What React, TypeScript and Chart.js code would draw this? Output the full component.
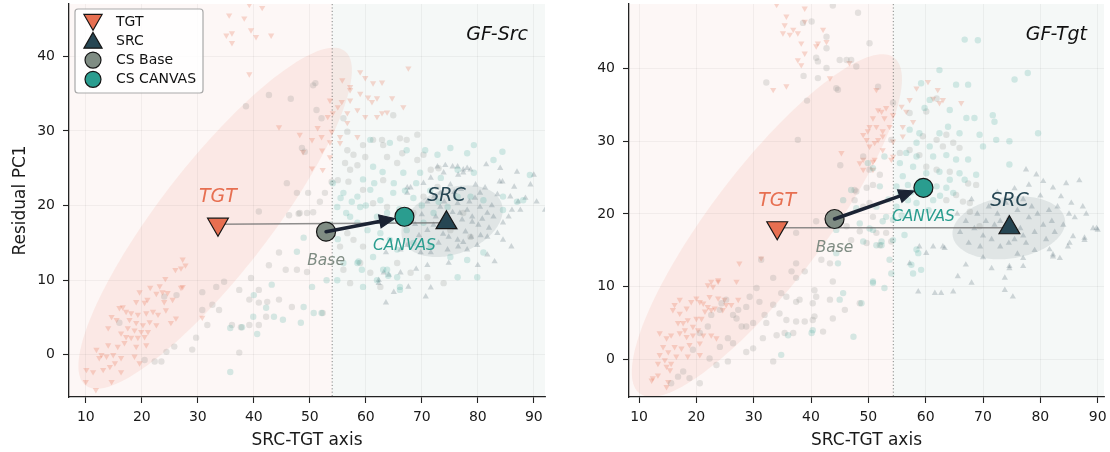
import React, { useEffect, useRef } from "react";
import { Chart, registerables } from "chart.js";

Chart.register(...registerables);

const FONT = '"DejaVu Sans", "Liberation Sans", sans-serif';

type Pt = [number, number];
type Ell = { c: Pt; a: Pt; b: Pt };

// ---- tick labels ----
const xTicks = [10, 20, 30, 40, 50, 60, 70, 80, 90];
const yTicks = [0, 10, 20, 30, 40];

// ---- legend entries ----
const legendLabels = ["TGT", "SRC", "CS Base", "CS CANVAS"];

// ================= Panel 1: GF-Src =================
const gfSrcTgtPts: Pt[] = [
  [27.3, 12.8], [27.8, 12.0], [26.0, 11.4], [27.0, 11.6], [24.2, 10.2], [23.2, 9.2], [21.5, 9.0], [23.7, 8.4], [22.6, 8.2], [24.6, 8.3],
  [27.0, 9.0], [25.5, 7.4], [24.0, 7.1], [19.6, 8.4], [19.0, 7.1], [20.5, 7.0], [21.0, 7.4], [16.6, 6.4], [16.0, 6.3], [17.2, 5.8],
  [18.1, 5.6], [19.3, 5.4], [20.8, 5.6], [22.0, 5.8], [22.9, 5.4], [24.3, 6.0], [25.2, 4.3], [14.6, 5.1], [15.5, 4.7], [17.8, 4.7],
  [19.0, 4.3], [20.2, 4.0], [21.4, 4.4], [22.6, 4.0], [14.0, 3.6], [17.5, 3.6], [18.7, 3.3], [19.9, 3.1], [21.1, 3.1], [16.3, 2.9],
  [17.2, 2.4], [18.1, 2.3], [19.3, 2.3], [20.5, 2.4], [16.9, 1.6], [15.7, 1.1], [19.0, 1.1], [20.8, 1.3], [14.0, 1.3], [11.9, 0.7],
  [12.8, 0.0], [12.4, -0.4], [13.7, -0.2], [14.9, 0.0], [16.3, -0.4], [18.7, -0.2], [19.6, -1.1], [15.2, -1.1], [14.3, -1.6], [13.1, -2.0],
  [11.3, -2.3], [10.1, -2.0], [16.3, -2.3], [14.6, -3.6], [10.0, -3.6], [11.8, -4.7], [26.1, 4.9], [27.3, 9.1], [30.8, 5.0],
  [35.6, 45.5], [36.1, 43.1], [35.1, 42.8], [38.3, 45.1], [39.5, 43.5], [40.4, 42.6], [41.5, 46.5], [43.1, 42.8], [39.2, 46.9], [36.1, 41.8],
  [39.2, 37.6], [44.5, 30.5], [67.6, 38.4], [59.0, 37.9], [59.9, 37.1], [61.3, 36.4], [62.9, 36.5], [57.2, 35.5], [55.8, 36.8], [59.0, 35.0],
  [60.4, 34.5], [62.0, 34.4], [61.1, 33.9], [64.7, 34.4], [66.7, 33.2], [57.2, 34.1], [58.5, 32.8], [56.7, 32.4], [59.9, 31.9], [62.0, 31.9],
  [63.8, 32.5], [62.9, 32.4], [53.6, 34.1], [53.2, 31.9], [54.1, 32.4], [55.0, 33.2], [51.4, 30.4], [52.1, 29.2], [53.9, 29.9], [55.4, 29.2],
  [56.7, 31.1], [58.5, 29.2], [53.6, 28.5], [55.4, 28.4], [48.2, 29.5], [50.4, 28.8], [48.8, 27.2], [50.4, 25.0], [52.3, 24.8], [53.6, 26.5],
  [57.2, 35.9], [52.2, 27.4], [55.7, 33.9],
];

const gfSrcBasePts: Pt[] = [
  [40.9, 19.2], [46.3, 18.7], [48.0, 18.9], [44.5, 13.7], [42.7, 12.0], [45.7, 11.4], [47.7, 11.4], [49.5, 11.1], [39.5, 10.3], [37.4, 8.7],
  [40.9, 8.7], [39.2, 7.4], [40.9, 7.0], [42.4, 7.1], [44.5, 7.4], [46.8, 6.4], [34.7, 9.8], [33.3, 9.1], [30.8, 8.4], [32.6, 6.7],
  [33.8, 6.0], [30.8, 6.0], [31.7, 4.0], [36.1, 4.0], [37.7, 3.7], [39.2, 4.0], [40.9, 4.0], [42.2, 5.1], [29.7, 2.3], [29.0, 0.7],
  [25.8, 1.1], [24.4, 0.4], [23.5, -0.9], [22.3, -0.9], [20.5, -0.7], [16.0, 4.3], [24.0, 7.8], [26.2, 8.0], [37.4, 0.3], [52.3, 5.6],
  [38.6, 33.3], [42.7, 34.8], [46.6, 34.3], [45.9, 23.0], [51.0, 36.4], [51.2, 32.8], [52.1, 31.7], [56.0, 31.7], [56.7, 29.9], [64.9, 32.1],
  [62.9, 28.8], [61.3, 28.8], [63.1, 28.1], [66.1, 29.0], [69.2, 29.5], [67.3, 28.8], [63.8, 26.5], [56.7, 27.4], [57.8, 26.8], [59.5, 28.1],
  [59.9, 26.5], [56.3, 25.7], [55.0, 23.4], [56.9, 23.2], [58.5, 25.4], [66.5, 27.0], [70.3, 26.8], [73.0, 25.0], [47.7, 21.7], [49.7, 21.7],
  [52.7, 21.7], [53.9, 23.2], [50.6, 36.1], [48.6, 27.7], [49.1, 27.2], [48.2, 19.0], [49.5, 19.0], [50.6, 19.1], [51.8, 20.5],
  [57.2, 24.8], [59.5, 22.1], [63.1, 23.4], [65.6, 25.7], [69.2, 26.1], [71.6, 24.8], [61.3, 20.3], [63.8, 19.8], [56.7, 16.3], [57.8, 15.4],
  [55.4, 14.5], [59.5, 14.5], [59.0, 12.3], [56.0, 11.4], [60.8, 11.0], [57.2, 9.6], [62.6, 9.1], [65.6, 12.3], [68.0, 11.0], [71.0, 10.4],
  [73.9, 9.6], [70.3, 21.2], [72.8, 22.5], [68.5, 19.0], [77.4, 19.0], [75.1, 16.7], [78.7, 15.8],
];

const gfSrcCanvasPts: Pt[] = [
  [60.8, 28.8], [64.3, 28.4], [67.3, 27.4], [70.6, 27.4], [72.8, 26.8], [75.1, 27.7], [78.1, 27.0], [79.3, 28.1], [82.8, 26.1], [84.4, 27.2],
  [61.3, 25.2], [66.7, 24.4], [69.7, 24.4], [73.4, 23.7], [76.4, 24.8], [79.3, 24.4], [54.1, 23.0], [56.0, 21.7], [58.5, 21.2], [60.8, 22.1],
  [64.9, 21.7], [62.6, 20.7], [54.9, 19.8], [59.0, 19.8], [63.8, 19.0], [62.0, 18.5], [67.3, 16.7], [70.3, 17.7], [72.1, 19.0], [74.6, 19.8],
  [76.4, 21.2], [78.7, 21.2], [81.0, 20.7], [84.5, 21.2], [87.0, 20.5], [88.1, 20.7], [89.3, 24.1], [57.2, 18.5], [58.5, 17.7], [60.3, 16.7],
  [62.6, 16.3], [64.3, 15.4], [65.6, 14.1], [68.5, 15.0], [71.6, 14.5], [75.1, 13.1], [78.1, 12.7], [81.0, 13.7], [61.3, 13.1], [58.5, 12.3],
  [63.1, 11.4], [65.6, 10.4], [66.1, 9.1], [59.5, 9.1], [54.9, 10.0], [76.4, 10.4], [79.9, 10.4], [84.5, 19.4],
  [48.9, 15.7], [47.7, 13.8], [53.0, 10.0], [50.4, 9.1], [48.9, 6.4], [48.4, 4.3], [52.1, 5.6], [42.2, 6.3], [43.6, 5.1], [45.2, 4.7],
  [40.0, 8.0], [39.9, 5.1], [37.9, 3.7], [40.6, 2.8], [35.8, 3.6], [35.8, -2.3], [43.2, 9.4], [56.0, 12.3], [58.7, 12.5], [59.3, 11.4],
  [63.8, 11.4], [64.0, 10.6], [62.0, 10.0], [66.1, 8.7], [50.7, 5.6],
  [55.5, 21.0], [56.5, 19.0], [53.5, 17.5], [55.0, 15.5], [57.5, 20.5], [59.5, 23.5], [61.5, 23.0], [63.0, 24.5], [65.0, 23.0], [67.0, 22.0],
  [68.5, 21.0], [70.0, 20.0], [71.5, 22.0], [73.0, 20.5], [69.0, 23.0], [66.0, 19.5], [64.5, 18.0], [60.0, 20.0],
];

const gfSrcSrcPts: Pt[] = [
  [75.5, 25.2], [77.4, 24.8], [84.4, 23.2], [87.0, 24.5], [79.6, 22.8], [81.3, 22.4], [85.8, 21.2], [86.1, 19.4], [84.5, 17.7], [82.8, 18.5],
  [81.7, 19.0], [80.4, 19.8], [78.1, 19.4], [77.2, 18.1], [79.0, 17.8], [80.1, 17.4], [75.5, 19.1], [76.4, 20.3], [73.3, 19.8], [72.1, 17.4],
  [71.0, 16.7], [76.4, 15.4], [77.4, 15.1], [78.1, 14.1], [79.9, 14.7], [81.7, 15.8], [83.5, 16.3], [84.5, 15.4], [74.6, 14.1], [76.5, 14.5],
  [81.7, 13.4], [71.6, 13.7], [69.8, 13.7], [67.4, 14.7], [66.2, 14.1], [63.6, 13.7], [63.2, 11.0], [64.1, 10.7], [66.2, 11.0], [62.3, 9.6],
  [67.4, 21.7], [68.0, 22.4], [70.3, 23.0], [71.6, 23.7], [73.3, 21.7], [87.2, 20.5], [76.4, 25.2], [78.1, 25.0], [74.2, 25.4], [87.6, 19.4],
  [62.3, 10.0], [65.0, 8.4], [63.6, 7.0], [70.7, 7.8], [71.6, 9.0], [67.6, 9.1], [74.8, 12.3],
  [89.4, 22.8], [90.0, 24.1], [92.0, 19.4], [83.9, 23.2], [77.4, 24.4], [78.7, 24.8], [76.5, 24.1], [73.9, 24.4], [72.8, 25.2], [75.1, 22.8],
  [80.4, 21.7], [67.4, 22.4],
  [72.5, 18.5], [73.8, 16.2], [75.0, 18.0], [76.0, 17.0], [77.8, 16.5], [78.5, 20.5], [79.5, 21.0], [74.0, 20.5], [75.8, 21.8], [77.0, 22.2],
  [80.8, 18.2], [82.0, 17.0], [70.0, 18.8], [71.0, 20.5], [73.0, 15.0], [74.8, 15.8], [78.8, 15.8], [80.5, 16.0], [82.5, 20.0], [83.5, 21.5],
  [76.8, 19.0], [79.0, 18.5], [72.2, 21.2], [68.8, 17.5], [69.5, 16.0], [85.5, 18.5], [86.5, 22.5], [88.5, 21.0], [84.0, 25.0], [81.5, 25.5],
  [90.5, 20.5], [83.0, 12.5], [86.0, 14.5], [80.0, 12.0], [71.0, 12.0], [69.0, 11.5],
];

const gfSrcTgtMean: Pt = [33.6, 17.5];
const gfSrcSrcMean: Pt = [74.4, 17.7];
const gfSrcBaseMean: Pt = [52.9, 16.5];
const gfSrcCanvasMean: Pt = [66.9, 18.5];

// ================= Panel 2: GF-Tgt =================
const gfTgtTgtPts: Pt[] = [
  [27.5, 13.2], [31.3, 13.9], [27.0, 10.7], [23.8, 10.7], [22.9, 10.0], [22.0, 10.2], [20.0, 8.4], [20.6, 7.9], [19.1, 7.9], [18.3, 7.0],
  [17.1, 6.3], [15.9, 6.8], [22.3, 8.6], [23.8, 8.4], [24.9, 8.2], [21.2, 7.7], [22.0, 7.2], [23.2, 7.0], [21.5, 6.6], [20.0, 5.6],
  [20.9, 5.6], [18.5, 5.4], [17.7, 5.0], [16.8, 5.0], [19.4, 4.5], [18.0, 4.0], [20.3, 4.0], [21.2, 3.3], [22.6, 3.3], [23.5, 2.9],
  [19.4, 3.3], [18.3, 3.1], [17.1, 3.6], [15.6, 3.3], [14.8, 2.9], [13.6, 3.6], [14.2, 1.7], [15.1, 1.0], [16.2, 1.7], [17.4, 1.5],
  [18.8, 2.0], [20.6, 2.2], [13.6, 0.6], [14.5, -0.1], [15.6, -0.6], [16.5, 0.4], [18.5, 0.4], [20.6, 0.6], [13.3, -0.6], [14.8, -1.0],
  [15.4, -1.5], [13.3, -2.2], [12.4, -2.6], [15.1, -3.1], [12.2, -2.9], [14.8, -3.8], [22.6, 10.7], [23.8, 10.9], [27.3, 8.2], [26.1, 7.5],
  [24.6, 6.8], [17.1, 8.2], [16.2, 7.5], [25.2, 7.5], [22.6, 6.8],
  [34.0, 48.8], [38.9, 48.3], [35.7, 47.2], [35.4, 46.0], [35.1, 44.9], [36.3, 44.7], [36.9, 45.4], [37.7, 44.9], [38.9, 46.5], [38.3, 43.5],
  [38.9, 42.1], [37.7, 41.2], [38.3, 40.5], [40.9, 43.1], [41.2, 43.5], [42.1, 45.4], [42.7, 43.7], [43.3, 38.7], [46.7, 40.8], [33.4, 37.1],
  [35.7, 37.6], [45.3, 28.4],
  [51.4, 37.1], [52.3, 34.1], [50.8, 33.2], [53.1, 34.6], [51.4, 32.0], [49.9, 31.4], [52.5, 31.4], [49.1, 30.9], [51.7, 30.2], [49.7, 30.2],
  [51.1, 29.8], [49.1, 27.5], [50.8, 27.2], [49.1, 26.1], [54.0, 27.5],
  [62.1, 37.1], [60.4, 38.2], [58.4, 37.3], [57.2, 35.7], [61.3, 35.9], [62.4, 35.3], [63.0, 35.7], [66.2, 35.3], [55.8, 34.8], [54.3, 33.6],
  [56.6, 34.1], [52.8, 33.2], [51.7, 34.3], [53.7, 32.0], [50.2, 32.0], [56.0, 32.0], [57.8, 32.7], [52.5, 30.7], [56.0, 30.7], [54.3, 30.0],
  [50.2, 29.3], [52.5, 28.8], [51.1, 27.5], [48.5, 27.0], [54.3, 27.9], [50.8, 26.1],
];

const gfTgtBasePts: Pt[] = [
  [31.3, 13.7], [37.4, 13.2], [36.6, 12.1], [33.4, 11.2], [41.8, 13.7], [43.8, 10.7], [40.6, 9.5], [40.9, 8.6], [43.3, 8.2], [40.3, 7.7],
  [38.0, 8.2], [37.4, 7.9], [35.7, 8.6], [34.8, 9.1], [33.4, 7.5], [31.0, 7.9], [30.5, 9.8], [29.3, 8.6], [28.7, 7.2], [27.3, 6.8],
  [26.4, 6.1], [27.9, 4.5], [28.7, 4.5], [29.9, 5.0], [31.9, 6.1], [32.2, 5.0], [34.5, 6.3], [35.7, 5.4], [37.4, 5.2], [38.9, 5.2],
  [40.3, 5.4], [40.6, 5.9], [42.1, 3.8], [43.8, 5.6], [36.9, 3.6], [35.4, 3.6], [34.0, 3.3], [31.6, 2.9], [29.9, 1.5], [28.7, 1.0],
  [26.4, 2.2], [25.5, 2.9], [24.1, 1.7], [25.5, -0.3], [23.5, -0.8], [22.3, 0.1], [20.6, -3.3], [18.8, -2.6], [16.8, -2.4], [17.7, -1.7],
  [15.6, -3.3], [19.4, 1.3], [24.4, 7.7], [25.2, 8.2], [24.1, 6.8], [27.0, 5.6], [22.6, 6.1], [22.0, 4.5], [20.6, 3.6], [33.4, -0.3],
  [37.4, 11.2], [38.9, 12.1], [43.3, 13.2], [48.5, 7.7], [45.9, 6.8],
  [43.8, 48.7], [38.6, 46.3], [40.1, 46.5], [42.7, 44.4], [42.7, 42.8], [40.9, 41.5], [41.2, 41.0], [45.0, 41.2], [46.2, 41.2], [47.9, 40.3],
  [42.7, 40.1], [41.2, 38.7], [44.4, 37.3], [44.7, 37.1], [32.2, 38.1], [38.7, 39.0], [39.3, 35.6], [37.7, 30.2], [45.1, 26.7], [47.6, 23.3],
  [48.2, 47.7], [51.7, 37.5], [54.3, 35.3], [47.9, 23.1], [49.7, 23.6], [50.8, 24.0], [47.6, 21.9], [49.1, 21.0], [50.2, 21.5], [40.9, 19.0],
  [37.4, 17.4], [46.2, 18.3], [48.5, 17.6], [50.8, 19.6], [47.0, 16.4], [51.4, 17.4], [53.1, 17.4], [49.7, 16.0], [52.0, 15.7], [54.0, 16.2],
  [50.2, 26.1], [52.0, 25.4], [50.2, 43.5], [47.0, 41.2], [57.2, 33.9], [60.1, 34.1], [61.9, 35.9], [54.0, 30.2], [59.5, 30.7], [61.9, 30.2],
  [55.5, 28.4], [57.2, 28.8], [58.9, 28.1], [63.6, 30.9], [64.8, 29.8], [63.0, 29.3], [65.9, 29.1], [49.1, 27.9], [60.1, 26.5], [61.9, 26.1],
  [64.2, 25.8], [67.4, 24.2], [68.8, 24.0], [65.3, 22.6], [66.5, 21.7], [67.7, 21.5], [63.6, 21.9], [67.7, 20.3], [69.4, 18.3],
];

const gfTgtCanvasPts: Pt[] = [
  [66.8, 44.0], [69.1, 43.9], [62.4, 39.8], [65.3, 37.8], [67.4, 37.8], [75.5, 38.5], [77.8, 39.4], [59.2, 38.0], [60.7, 35.7], [59.8, 34.6],
  [64.2, 34.3], [67.1, 33.2], [68.5, 33.2], [71.7, 33.6], [72.0, 32.7], [79.6, 31.1], [63.9, 32.0], [65.9, 31.1], [69.4, 30.9], [70.0, 29.3],
  [72.3, 30.2], [74.6, 30.0], [62.4, 31.1], [58.9, 31.1], [57.2, 31.6], [58.4, 29.8], [60.7, 29.3], [56.6, 28.4], [58.4, 27.9], [61.3, 27.9],
  [63.6, 28.1], [65.3, 27.5], [67.4, 27.5], [55.5, 27.0], [57.8, 26.5], [60.1, 25.6], [62.4, 25.8], [64.2, 24.7], [65.9, 25.6], [66.8, 24.7],
  [68.8, 25.4], [74.6, 26.8], [56.0, 25.2], [54.9, 23.8], [56.9, 24.0], [61.9, 23.8], [63.6, 23.6], [64.8, 22.9], [55.5, 22.9], [56.9, 21.9],
  [54.9, 21.0], [58.4, 21.5], [61.3, 21.9], [47.9, 20.8], [51.4, 21.0], [52.5, 19.0], [50.8, 17.8], [48.5, 18.7], [54.3, 16.4],
  [56.3, 17.1], [58.4, 15.1], [59.2, 12.3], [57.8, 11.8], [57.5, 13.0], [54.0, 11.8], [52.8, 9.8], [50.8, 10.7], [48.8, 7.7], [47.4, 3.1],
  [52.3, 15.7], [49.1, 16.2], [50.2, 18.0], [58.7, 14.6], [52.0, 23.8], [53.1, 19.6], [52.3, 16.2], [54.3, 19.2], [49.9, 27.0], [50.8, 26.3],
  [52.8, 27.9], [45.6, 21.9], [47.0, 23.3], [44.4, 17.8], [51.4, 15.7], [53.7, 13.7], [44.4, 14.6], [44.7, 13.2], [45.0, 8.2],
  [40.3, 4.0], [40.1, 3.6], [45.6, 9.1], [34.8, 0.6], [36.0, 3.3], [50.8, 10.5],
  [59.0, 24.5], [60.5, 20.5], [62.5, 22.5], [57.5, 23.0], [55.8, 19.8], [53.5, 22.0],
];

const gfTgtSrcPts: Pt[] = [
  [77.5, 26.1], [79.3, 25.4], [82.2, 23.6], [84.5, 24.2], [86.8, 24.6], [83.6, 22.4], [85.4, 21.5], [87.4, 21.0], [89.2, 18.0], [90.0, 17.8],
  [87.7, 16.7], [85.7, 16.9], [84.8, 15.5], [82.2, 14.4], [83.4, 13.9], [77.0, 13.9], [74.6, 12.8], [73.8, 11.2], [77.0, 12.8], [65.6, 11.4],
  [68.0, 10.5], [58.7, 9.3], [61.6, 9.1], [62.7, 9.1], [64.8, 9.3], [75.2, 8.6], [57.2, 13.2], [58.9, 15.5], [61.3, 15.5], [63.0, 15.5],
  [60.1, 14.6], [63.3, 15.3], [73.8, 9.5], [74.6, 12.5], [82.2, 14.1], [89.8, 18.0], [87.7, 16.4], [85.1, 16.0], [81.6, 15.1],
  [66.0, 17.5], [67.0, 19.0], [67.5, 16.0], [68.5, 18.0], [69.0, 20.0], [69.5, 15.5], [70.0, 17.0], [70.5, 19.0], [71.0, 21.0], [71.5, 16.5],
  [72.0, 18.5], [72.5, 20.0], [73.0, 15.5], [73.5, 17.5], [74.0, 21.5], [74.5, 19.5], [75.5, 16.5], [76.0, 20.5], [76.5, 18.0], [77.0, 22.0],
  [77.5, 16.0], [78.0, 19.5], [78.5, 21.0], [79.0, 17.5], [79.5, 20.0], [80.0, 22.5], [80.5, 18.5], [81.0, 16.5], [81.5, 20.5], [82.0, 19.0],
  [82.5, 17.5], [83.0, 21.0], [84.0, 18.5], [85.0, 20.0], [68.0, 22.0], [72.5, 23.0], [75.5, 23.5], [78.0, 24.0], [65.5, 20.0], [70.0, 14.0],
  [76.0, 14.5], [79.0, 15.0], [71.5, 12.5], [67.0, 13.0], [80.5, 24.5], [86.0, 19.5], [88.0, 20.0], [73.0, 19.0], [74.5, 16.0], [77.0, 17.0],
];

const gfTgtTgtMean: Pt = [34.1, 18.1];
const gfTgtSrcMean: Pt = [74.6, 18.1];
const gfTgtBaseMean: Pt = [44.1, 19.3];
const gfTgtCanvasMean: Pt = [59.6, 23.6];

// ---- styling ----
const C_TGT = "#E76F51";
const C_SRC = "#264653";
const C_BASE = "#7F8C83";
const C_CANVAS = "#2A9D8F";
const C_ARROW = "#1B2333";
const BG_TGT = "#fdf7f6";
const BG_SRC = "#f5f8f7";

interface Panel {
  title: string;
  xMin: number; xMax: number; yMin: number; yMax: number;
  tgtPts: Pt[]; srcPts: Pt[]; basePts: Pt[]; canvasPts: Pt[];
  tgtMean: Pt; srcMean: Pt; baseMean: Pt; canvasMean: Pt;
  tgtEll: Ell; srcEll: Ell;
  yTitle: boolean; legend: boolean; yAxisWidth: number; padRight: number;
}

const panelSrc: Panel = {
  title: "GF-Src",
  xMin: 7, xMax: 92, yMin: -5.65, yMax: 47,
  tgtPts: gfSrcTgtPts, srcPts: gfSrcSrcPts, basePts: gfSrcBasePts, canvasPts: gfSrcCanvasPts,
  tgtMean: gfSrcTgtMean, srcMean: gfSrcSrcMean, baseMean: gfSrcBaseMean, canvasMean: gfSrcCanvasMean,
  tgtEll: { c: [33.1, 18.3], a: [23.3, 22.3], b: [7.3, -4.95] },
  srcEll: { c: [75.4, 17.9], a: [8.8, 2.5], b: [2.1, -4.1] },
  yTitle: true, legend: true, yAxisWidth: 69, padRight: 10,
};

const panelTgt: Panel = {
  title: "GF-Tgt",
  xMin: 8.25, xMax: 91.1, yMin: -5.2, yMax: 48.9,
  tgtPts: gfTgtTgtPts, srcPts: gfTgtSrcPts, basePts: gfTgtBasePts, canvasPts: gfTgtCanvasPts,
  tgtMean: gfTgtTgtMean, srcMean: gfTgtSrcMean, baseMean: gfTgtBaseMean, canvasMean: gfTgtCanvasMean,
  tgtEll: { c: [32.3, 18.4], a: [22.2, 23.1], b: [7.9, -4.75] },
  srcEll: { c: [74.5, 18.1], a: [9.8, 1.1], b: [0.77, -4.2] },
  yTitle: false, legend: false, yAxisWidth: 74, padRight: 6,
};

function drawEllipse(ctx: CanvasRenderingContext2D, xs: any, ys: any, e: Ell, color: string) {
  ctx.beginPath();
  const n = 160;
  for (let i = 0; i <= n; i++) {
    const t = (i / n) * Math.PI * 2;
    const dx = e.c[0] + e.a[0] * Math.cos(t) + e.b[0] * Math.sin(t);
    const dy = e.c[1] + e.a[1] * Math.cos(t) + e.b[1] * Math.sin(t);
    const px = xs.getPixelForValue(dx);
    const py = ys.getPixelForValue(dy);
    if (i === 0) ctx.moveTo(px, py); else ctx.lineTo(px, py);
  }
  ctx.closePath();
  ctx.fillStyle = color;
  ctx.fill();
}

function drawMarker(ctx: CanvasRenderingContext2D, kind: string, x: number, y: number, r: number, fill: string) {
  ctx.beginPath();
  if (kind === "circle") {
    ctx.arc(x, y, r, 0, Math.PI * 2);
  } else {
    const s = kind === "down" ? -1 : 1;
    ctx.moveTo(x, y - s * r);
    ctx.lineTo(x - r * 0.866, y + s * r * 0.5);
    ctx.lineTo(x + r * 0.866, y + s * r * 0.5);
    ctx.closePath();
  }
  ctx.fillStyle = fill;
  ctx.fill();
  ctx.lineWidth = 1.2;
  ctx.strokeStyle = "#151515";
  ctx.stroke();
}

function makePlugin(p: Panel) {
  return {
    id: "panelDecor",
    beforeDraw(chart: any) {
      const { ctx, chartArea: ca, scales } = chart;
      const xs = scales.x, ys = scales.y;
      const split = xs.getPixelForValue((p.tgtMean[0] + p.srcMean[0]) / 2);
      ctx.save();
      ctx.fillStyle = "#ffffff";
      ctx.fillRect(0, 0, chart.width, chart.height);
      ctx.fillStyle = BG_TGT;
      ctx.fillRect(ca.left, ca.top, split - ca.left, ca.bottom - ca.top);
      ctx.fillStyle = BG_SRC;
      ctx.fillRect(split, ca.top, ca.right - split, ca.bottom - ca.top);
      ctx.beginPath();
      ctx.rect(ca.left, ca.top, ca.right - ca.left, ca.bottom - ca.top);
      ctx.clip();
      drawEllipse(ctx, xs, ys, p.tgtEll, "rgba(231,111,81,0.10)");
      drawEllipse(ctx, xs, ys, p.srcEll, "rgba(38,70,83,0.10)");
      ctx.restore();
    },
    beforeDatasetsDraw(chart: any) {
      const { ctx, chartArea: ca, scales } = chart;
      const split = scales.x.getPixelForValue((p.tgtMean[0] + p.srcMean[0]) / 2);
      ctx.save();
      ctx.strokeStyle = "rgba(90,90,90,0.8)";
      ctx.lineWidth = 0.9;
      ctx.setLineDash([1.2, 2.2]);
      ctx.beginPath();
      ctx.moveTo(split, ca.top);
      ctx.lineTo(split, ca.bottom);
      ctx.stroke();
      ctx.restore();
    },
    afterDatasetsDraw(chart: any) {
      const { ctx, chartArea: ca, scales } = chart;
      const xs = scales.x, ys = scales.y;
      const px = (pt: Pt): Pt => [xs.getPixelForValue(pt[0]), ys.getPixelForValue(pt[1])];
      const b = px(p.baseMean), c = px(p.canvasMean), t = px(p.tgtMean), s = px(p.srcMean);
      ctx.save();
      // arrow base -> canvas
      const dx = c[0] - b[0], dy = c[1] - b[1];
      const len = Math.hypot(dx, dy);
      const ux = dx / len, uy = dy / len;
      const tip: Pt = [c[0] - ux * 10, c[1] - uy * 10];
      const headLen = 15, headW = 6.5;
      const hb: Pt = [tip[0] - ux * headLen, tip[1] - uy * headLen];
      ctx.strokeStyle = C_ARROW;
      ctx.fillStyle = C_ARROW;
      ctx.lineWidth = 3.5;
      ctx.lineCap = "round";
      ctx.beginPath();
      ctx.moveTo(b[0], b[1]);
      ctx.lineTo(hb[0] + ux * 2, hb[1] + uy * 2);
      ctx.stroke();
      ctx.beginPath();
      ctx.moveTo(tip[0], tip[1]);
      ctx.lineTo(hb[0] - uy * headW, hb[1] + ux * headW);
      ctx.lineTo(hb[0] + uy * headW, hb[1] - ux * headW);
      ctx.closePath();
      ctx.lineWidth = 1.2;
      ctx.lineJoin = "miter";
      ctx.fill();
      ctx.stroke();

      // labels
      ctx.textAlign = "center";
      ctx.textBaseline = "middle";
      ctx.font = `italic 19px ${FONT}`;
      ctx.fillStyle = C_TGT;
      ctx.fillText("TGT", t[0], t[1] - 27);
      ctx.fillStyle = C_SRC;
      ctx.fillText("SRC", s[0], s[1] - 27);
      ctx.font = `italic 15.5px ${FONT}`;
      ctx.fillStyle = C_BASE;
      ctx.fillText("Base", b[0], b[1] + 29);
      ctx.fillStyle = C_CANVAS;
      ctx.fillText("CANVAS", c[0], c[1] + 29);

      // panel title
      ctx.font = `italic 19px ${FONT}`;
      ctx.fillStyle = "#111";
      ctx.textAlign = "right";
      ctx.fillText(p.title, ca.right - 17, ca.top + 31);

      // legend
      if (p.legend) {
        const lx = ca.left + 6, ly = ca.top + 5, lw = 128, lh = 84;
        ctx.beginPath();
        if ((ctx as any).roundRect) (ctx as any).roundRect(lx, ly, lw, lh, 3); else ctx.rect(lx, ly, lw, lh);
        ctx.fillStyle = "rgba(255,255,255,0.85)";
        ctx.fill();
        ctx.strokeStyle = "#a9a9a9";
        ctx.lineWidth = 1.2;
        ctx.stroke();
        const kinds = ["down", "up", "circle", "circle"];
        const fills = [C_TGT, C_SRC, C_BASE, C_CANVAS];
        const rs = [10.5, 10.5, 8, 8];
        ctx.font = `14px ${FONT}`;
        ctx.textAlign = "left";
        ctx.textBaseline = "middle";
        legendLabels.forEach((lab, i) => {
          const yy = ly + 12.7 + i * 19.2;
          const my = kinds[i] === "down" ? yy - 2 : kinds[i] === "up" ? yy + 2 : yy;
          drawMarker(ctx, kinds[i], lx + 18, my, rs[i], fills[i]);
          ctx.fillStyle = "#111";
          ctx.fillText(lab, lx + 41, yy + 0.5);
        });
      }
      ctx.restore();
    },
  };
}

function buildConfig(p: Panel): any {
  const toXY = (pts: Pt[]) => pts.map(([x, y]) => ({ x, y }));
  const cloud = (pts: Pt[], style: string, rot: number, color: string, r: number, order: number) => ({
    type: "scatter",
    data: toXY(pts),
    pointStyle: style,
    pointRotation: rot,
    pointRadius: r,
    pointHoverRadius: r,
    pointBackgroundColor: color,
    pointBorderWidth: 0,
    pointBorderColor: "rgba(0,0,0,0)",
    backgroundColor: color,
    borderColor: "rgba(0,0,0,0)",
    order,
  });
  const mean = (pt: Pt, style: string, rot: number, color: string, r: number, order: number) => ({
    type: "scatter",
    data: [{ x: pt[0], y: pt[1] }],
    pointStyle: style,
    pointRotation: rot,
    pointRadius: r,
    pointHoverRadius: r,
    pointBackgroundColor: color,
    pointBorderColor: "#151515",
    pointBorderWidth: 1.2,
    order,
  });
  const tickFont = { family: FONT, size: 14 };
  return {
    type: "scatter",
    data: {
      datasets: [
        mean(p.tgtMean, "triangle", 180, C_TGT, 12, 0),
        mean(p.srcMean, "triangle", 0, C_SRC, 12, 1),
        mean(p.baseMean, "circle", 0, C_BASE, 9.5, 2),
        mean(p.canvasMean, "circle", 0, C_CANVAS, 9.5, 3),
        {
          type: "scatter",
          data: toXY([p.tgtMean, p.srcMean]),
          showLine: true,
          borderColor: "rgba(115,115,115,0.8)",
          borderWidth: 1.4,
          pointRadius: 0,
          pointHoverRadius: 0,
          order: 4,
        },
        cloud(p.canvasPts, "circle", 0, "rgba(42,157,143,0.19)", 3.2, 5),
        cloud(p.basePts, "circle", 0, "rgba(128,135,132,0.2)", 3.2, 6),
        cloud(p.srcPts, "triangle", 0, "rgba(38,70,83,0.2)", 3.6, 7),
        cloud(p.tgtPts, "triangle", 180, "rgba(231,111,81,0.26)", 3.6, 8),
      ],
    },
    options: {
      responsive: false,
      animation: false,
      devicePixelRatio: 1,
      events: [],
      layout: { autoPadding: false, padding: { left: 0, right: p.padRight, top: 4, bottom: 0 } },
      plugins: { legend: { display: false }, tooltip: { enabled: false } },
      scales: {
        x: {
          type: "linear",
          min: p.xMin,
          max: p.xMax,
          afterBuildTicks: (s: any) => { s.ticks = xTicks.map((v) => ({ value: v })); },
          afterFit: (s: any) => { s.height = 55; s.paddingLeft = 0; s.paddingRight = 0; s.paddingTop = 0; s.paddingBottom = 0; },
          grid: { color: "rgba(0,0,0,0.055)", lineWidth: 0.8, tickColor: "#222", tickLength: 6, tickWidth: 1.1 },
          border: { color: "#222", width: 1.3 },
          ticks: { color: "#1a1a1a", font: tickFont, padding: 6, maxRotation: 0 },
          title: { display: true, text: "SRC-TGT axis", color: "#1a1a1a", font: { family: FONT, size: 17 }, padding: { top: 0, bottom: 1.3 } },
        },
        y: {
          type: "linear",
          min: p.yMin,
          max: p.yMax,
          afterBuildTicks: (s: any) => { s.ticks = yTicks.map((v) => ({ value: v })); },
          afterFit: (s: any) => { s.width = p.yAxisWidth; s.paddingLeft = 0; s.paddingRight = 0; s.paddingTop = 0; s.paddingBottom = 0; },
          grid: { color: "rgba(0,0,0,0.055)", lineWidth: 0.8, tickColor: "#222", tickLength: 6, tickWidth: 1.1 },
          border: { color: "#222", width: 1.3 },
          ticks: { color: "#1a1a1a", font: tickFont, padding: 8 },
          title: { display: p.yTitle, text: "Residual PC1", color: "#1a1a1a", font: { family: FONT, size: 17 }, padding: { top: 10, bottom: 0 } },
        },
      },
    },
    plugins: [makePlugin(p)],
  };
}

function PanelChart({ panel, left }: { panel: Panel; left: number }) {
  const ref = useRef<HTMLCanvasElement | null>(null);
  useEffect(() => {
    if (!ref.current) return;
    const chart = new Chart(ref.current, buildConfig(panel));
    return () => chart.destroy();
  }, [panel]);
  return (
    <div style={{ position: "absolute", left, top: 0, width: 555, height: 452 }}>
      <canvas ref={ref} width={555} height={452} style={{ display: "block", width: 555, height: 452 }} />
    </div>
  );
}

export default function App() {
  return (
    <div style={{ position: "absolute", left: 0, top: 0, width: 1110, height: 452, background: "#fff", overflow: "hidden" }}>
      <PanelChart panel={panelSrc} left={0} />
      <PanelChart panel={panelTgt} left={555} />
    </div>
  );
}
